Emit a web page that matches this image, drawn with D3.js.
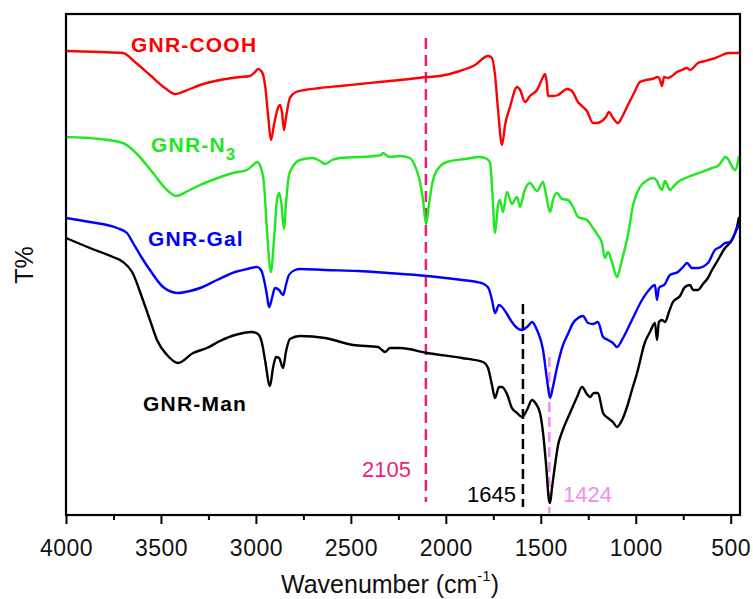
<!DOCTYPE html>
<html><head><meta charset="utf-8">
<script src="https://cdn.jsdelivr.net/npm/d3@7"></script>
<style>body{margin:0;background:#fff}</style>
</head><body>
<svg id="c" width="753" height="599"></svg>
<script>
// x: wavenumber (cm-1), y: transmittance (arbitrary, offset per curve)
const majorTicks = [4000,3500,3000,2500,2000,1500,1000,500];
const minorTicks = [3750,3250,2750,2250,1750,1250,750];

const coohData = [[4000,464],[3821,463],[3700,462],[3637,453],[3558,440],[3479,427],[3426,421],[3373,424],[3294,430],[3189,435],[3084,438],[3031,439],[3005,443],[2989,446],[2968,443],[2952,430],[2936,400],[2921,375],[2905,390],[2884,407],[2873,410],[2863,403],[2852,385],[2842,397],[2821,417],[2789,423],[2742,425],[2663,427],[2557,429],[2452,431],[2347,433],[2241,435],[2099,438],[2031,439],[1925,444],[1846,450],[1778,459],[1757,457],[1741,440],[1725,405],[1704,370],[1688,390],[1662,408],[1625,428],[1609,425],[1583,413],[1557,419],[1520,425],[1488,438],[1478,441],[1467,430],[1462,419],[1436,419],[1409,420],[1388,423],[1362,426],[1336,424],[1304,413],[1278,408],[1257,404],[1225,392],[1204,392],[1178,394],[1157,398],[1141,403],[1120,397],[1093,392],[1072,398],[1041,410],[1009,422],[978,433],[946,435],[914,436],[883,438],[872,435],[862,429],[851,438],[830,437],[809,439],[783,443],[756,445],[730,447],[714,445],[672,452],[635,454],[598,456],[556,459],[514,462],[462,462],[456,463]];

const n3Data = [[4000,378],[3821,376],[3700,372],[3637,363],[3542,342],[3479,327],[3421,319],[3358,324],[3294,330],[3215,336],[3121,342],[3047,345],[3015,350],[2994,353],[2973,347],[2957,330],[2942,285],[2921,243],[2905,275],[2889,315],[2878,322],[2868,315],[2852,286],[2842,310],[2826,340],[2810,347],[2768,355],[2699,357],[2663,354],[2636,351],[2599,355],[2557,357],[2452,358],[2373,359],[2341,360],[2331,362],[2315,360],[2294,358],[2241,359],[2189,357],[2162,349],[2141,337],[2120,315],[2104,291],[2089,310],[2073,330],[2046,345],[1994,353],[1899,356],[1820,358],[1783,356],[1767,352],[1757,330],[1741,282],[1725,310],[1715,315],[1699,303],[1678,323],[1652,311],[1625,318],[1609,308],[1588,323],[1557,332],[1520,324],[1488,333],[1472,320],[1451,303],[1436,315],[1415,322],[1388,316],[1357,315],[1330,308],[1304,298],[1257,295],[1225,287],[1204,281],[1178,272],[1162,257],[1146,263],[1125,253],[1099,238],[1083,247],[1067,259],[1041,280],[1014,310],[978,328],[946,334],[909,337],[888,334],[872,327],[862,325],[846,334],[820,325],[804,328],[778,333],[725,338],[651,343],[598,347],[567,349],[546,354],[530,358],[514,356],[498,350],[477,345],[456,359]];

const galData = [[4000,297],[3874,293],[3731,287],[3679,282],[3647,272],[3600,257],[3558,245],[3489,228],[3442,223],[3410,222],[3347,224],[3294,227],[3205,235],[3110,243],[3047,246],[2994,248],[2973,245],[2957,235],[2942,220],[2931,208],[2915,217],[2900,227],[2878,225],[2857,220],[2842,230],[2826,240],[2794,245],[2768,246],[2636,245],[2462,244],[2304,242],[2099,239],[1915,235],[1836,233],[1799,231],[1773,226],[1757,215],[1741,202],[1720,210],[1704,208],[1678,201],[1652,193],[1625,187],[1599,185],[1567,189],[1546,193],[1520,185],[1488,165],[1467,135],[1451,117],[1436,128],[1415,147],[1383,170],[1357,181],[1330,192],[1304,197],[1278,199],[1251,192],[1225,191],[1199,193],[1172,178],[1146,175],[1120,172],[1099,168],[1067,177],[1020,195],[967,215],[930,225],[899,230],[888,215],[878,227],[846,231],[820,240],[778,243],[751,248],[730,252],[704,247],[672,247],[620,252],[583,265],[556,268],[530,272],[504,273],[477,282],[456,291]];

const manData = [[4000,277],[3874,267],[3753,258],[3700,253],[3652,243],[3595,215],[3558,195],[3521,175],[3468,160],[3410,152],[3331,162],[3258,167],[3189,174],[3110,180],[3021,183],[2989,181],[2968,172],[2952,155],[2926,129],[2910,147],[2894,158],[2878,157],[2857,147],[2842,163],[2821,176],[2768,179],[2636,177],[2489,170],[2357,168],[2336,165],[2320,163],[2294,167],[2241,167],[2099,162],[1915,157],[1804,153],[1778,147],[1757,130],[1741,117],[1720,128],[1704,128],[1678,121],[1652,107],[1625,102],[1599,98],[1573,105],[1546,115],[1525,111],[1504,102],[1488,82],[1472,50],[1457,15],[1451,12],[1441,27],[1425,50],[1409,70],[1388,83],[1346,102],[1309,118],[1283,128],[1257,121],[1241,118],[1220,122],[1199,122],[1172,102],[1146,97],[1120,93],[1099,88],[1072,95],[1046,108],[1020,125],[993,142],[951,173],[925,183],[899,192],[888,175],[878,193],[862,195],[846,193],[825,203],[804,213],[767,219],[741,228],[714,230],[698,225],[672,225],[646,231],[620,237],[598,245],[567,255],[530,267],[493,275],[467,288],[456,298]];

const seriesNames = ["GNR-COOH","GNR-N3","GNR-Gal","GNR-Man"];
const seriesColors = ["#ff0000","#1ee81e","#0000ff","#000000"];

// marker lines: drawn position, label text, top/bottom T
const markerPos = [2105, 1594, 1455];
const markerLabels = ["2105","1645","1424"];
const markerTop = [477, 211, 158];
const markerBottom = [13, 8, 2];
const markerColors = ["#e91e7f","#000000","#f28cf0"];

const svg = d3.select("#c");
const L=66, R=740, T=14, B=515;
const x = d3.scaleLinear().domain([4000,451]).range([L,R]);
const y = d3.scaleLinear().domain([0,501]).range([B,T]);
const font = "'Liberation Sans', Arial, sans-serif";

// marker dashed lines
markerPos.forEach((p,i)=>{
  svg.append("line").attr("x1",x(p)).attr("x2",x(p))
    .attr("y1",y(markerTop[i])).attr("y2",y(markerBottom[i]))
    .attr("stroke",markerColors[i]).attr("stroke-width",2.5)
    .attr("stroke-dasharray", i===0?"11,6":"10,5");
});

const line = d3.line().x(d=>x(d[0])).y(d=>y(d[1])).curve(d3.curveMonotoneX);
[coohData,n3Data,manData,galData].forEach((data,k)=>{
  const idx = [0,1,3,2][k];
  svg.append("path").attr("d",line(data)).attr("fill","none")
    .attr("stroke",seriesColors[idx]).attr("stroke-width",2.4)
    .attr("stroke-linejoin","round");
});

// axes
const ax = svg.append("g").attr("transform",`translate(0,${B})`)
  .call(d3.axisBottom(x).tickValues(majorTicks).tickSize(9).tickPadding(16).tickFormat(d3.format("d")));
ax.select(".domain").remove();
ax.selectAll("line").attr("stroke","#000").attr("stroke-width",2);
ax.selectAll("text").attr("font-family",font).attr("font-size",23).attr("fill","#111").attr("letter-spacing","0.5px");
const mx = svg.append("g").attr("transform",`translate(0,${B})`)
  .call(d3.axisBottom(x).tickValues(minorTicks).tickSize(5).tickFormat(""));
mx.select(".domain").remove();
mx.selectAll("line").attr("stroke","#000").attr("stroke-width",2);

svg.append("rect").attr("x",L).attr("y",T).attr("width",R-L).attr("height",B-T)
  .attr("fill","none").attr("stroke","#000").attr("stroke-width",2.2);

// axis titles
const xt = svg.append("text").attr("x",281).attr("y",593).attr("font-family",font).attr("font-size",25).attr("fill","#111");
xt.append("tspan").text("Wavenumber (cm");
xt.append("tspan").attr("dy",-12).attr("font-size",15).text("-1");
xt.append("tspan").attr("dy",12).text(")");
svg.append("text").attr("transform","translate(33,265) rotate(-90)").attr("text-anchor","middle")
  .attr("font-family",font).attr("font-size",25).attr("fill","#111").text("T%");

// series labels
const lab = (tx,ty,col,txt,sub)=>{
  const t = svg.append("text").attr("x",tx).attr("y",ty).attr("font-family",font)
    .attr("font-weight","bold").attr("font-size",21).attr("letter-spacing","1.2px").attr("fill",col);
  t.append("tspan").text(txt);
  if(sub){ t.append("tspan").attr("dy",8).attr("font-size",17).text(sub); }
};
lab(131,52,seriesColors[0],"GNR-COOH");
lab(151,152,seriesColors[1],"GNR-N","3");
lab(148,246,seriesColors[2],"GNR-Gal");
lab(143,411,seriesColors[3],"GNR-Man");

// marker labels
const mlx = [362, 467, 563];
markerLabels.forEach((s,i)=>{
  svg.append("text").attr("x",mlx[i]).attr("y",i===0?477:502).attr("font-family",font)
    .attr("font-size",22).attr("fill",markerColors[i]).text(s);
});
</script>
</body></html>
